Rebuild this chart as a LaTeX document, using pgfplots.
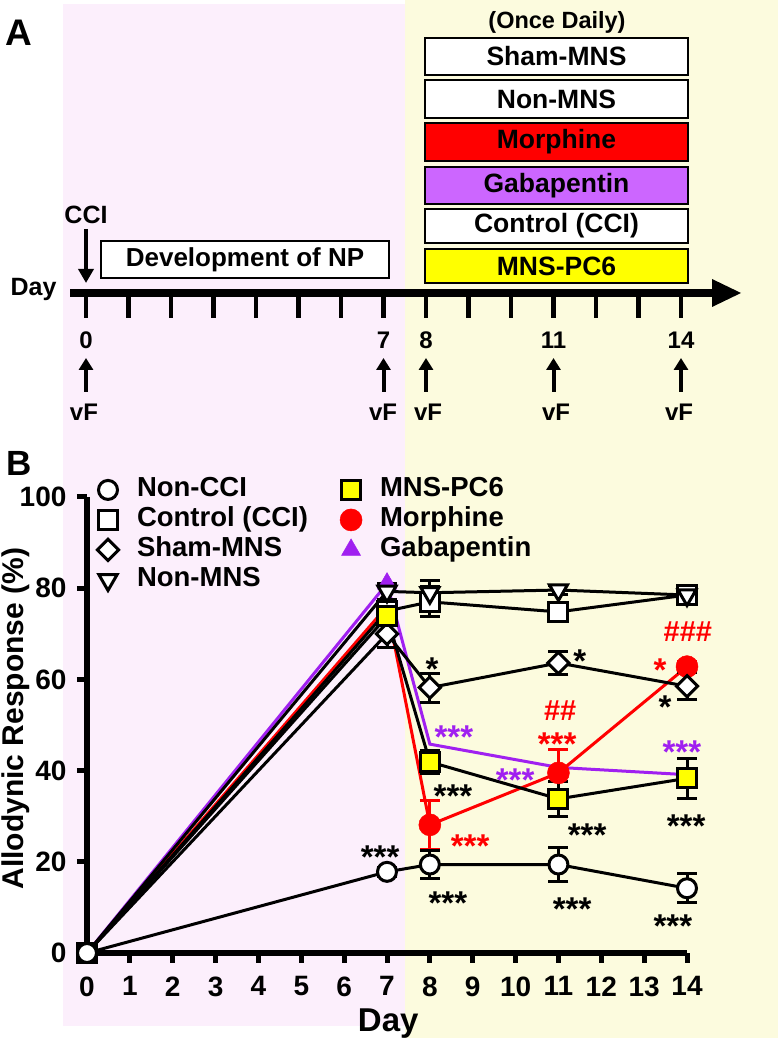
\documentclass[border=0pt]{standalone}
\usepackage{fontspec}
\setmainfont{Liberation Sans}
\usepackage{pgfplots}
\pgfplotsset{compat=1.18}
\usetikzlibrary{arrows.meta}
\definecolor{bgpink}{RGB}{252,239,252}
\definecolor{bgyellow}{RGB}{252,251,222}
\definecolor{mred}{RGB}{255,0,0}
\definecolor{gpurple}{RGB}{160,32,240}
\definecolor{gbox}{RGB}{204,102,255}
\definecolor{ybox}{RGB}{255,255,0}
\newcommand\fs[1]{\fontsize{#1}{#1}\selectfont\bfseries}
\tikzset{
  noncci/.style={black,line width=3pt,mark=*,mark size=9.5pt,mark options={fill=white,draw=black,line width=3pt}},
  ctrl/.style={black,line width=3pt,mark=square*,mark size=9.5pt,mark options={fill=white,draw=black,line width=3pt}},
  sham/.style={black,line width=3pt,mark=square*,mark size=7.5pt,mark options={fill=white,draw=black,line width=3pt,rotate=45}},
  nonmns/.style={black,line width=3pt,mark=triangle*,mark size=10.5pt,mark options={fill=white,draw=black,line width=3pt,rotate=180}},
  pc6/.style={black,line width=3pt,mark=square*,mark size=9.5pt,mark options={fill=ybox,draw=black,line width=3pt}},
  morph/.style={mred,line width=3pt,mark=*,mark size=11pt,mark options={fill=mred,draw=mred,line width=0.5pt}},
  gaba/.style={gpurple,line width=3pt,mark=triangle*,mark size=11pt,mark options={fill=gpurple,draw=gpurple,line width=0.5pt}},
}
\pgfplotsset{
  ebar/.style={error bars/.cd, y dir=both, y explicit,
     error bar style={line width=3pt,#1},
     error mark options={rotate=90,mark size=10pt,line width=3pt,#1}},
}
\newcommand\annS[4]{\node[font=\fs{33},text=#1,anchor=base,yshift=-19pt] at (axis cs:#2,#3) {#4};}
\newcommand\annH[4]{\node[font=\fs{29},text=#1,anchor=base,yshift=-10pt] at (axis cs:#2,#3) {#4};}
\begin{document}
\begin{tikzpicture}[x=1pt,y=1pt]
\useasboundingbox (0,0) rectangle (778,1038);
\fill[bgpink] (63,12) rectangle (405,1034);
\fill[bgyellow] (405,0) rectangle (778,1038);
% ---------------- Panel A ----------------
\node[font=\fs{37}] at (19,1005) {A};
\node[font=\fs{23.5}] at (557,1016) {(Once Daily)};
\draw[line width=2pt,fill=white] (425,963) rectangle (688,1000);
\node[font=\fs{26.5}] at (556.5,981.5) {Sham-MNS};
\draw[line width=2pt,fill=white] (425,920) rectangle (688,958);
\node[font=\fs{26.5}] at (556.5,939) {Non-MNS};
\draw[line width=2pt,fill=mred] (425,877) rectangle (688,915);
\node[font=\fs{26.5}] at (556.5,896) {Morphine};
\draw[line width=2pt,fill=gbox] (425,834) rectangle (688,871);
\node[font=\fs{26.5}] at (556.5,852.5) {Gabapentin};
\draw[line width=2pt,fill=white] (425,795) rectangle (688,829);
\node[font=\fs{26.5}] at (556.5,812) {Control (CCI)};
\draw[line width=2pt,fill=ybox] (425,755) rectangle (688,789);
\node[font=\fs{26.5}] at (556.5,772) {MNS-PC6};
\draw[line width=2pt,fill=white] (101,760) rectangle (389,797);
\node[font=\fs{26}] at (245,778.5) {Development of NP};
\node[font=\fs{25}] at (86,823) {CCI};
\draw[line width=4pt,-{Triangle[width=15pt,length=14pt]}] (86,809) -- (86,755);
\draw[line width=8pt] (70,745) -- (714,745);
\fill (712,759) -- (741,745) -- (712,731) -- cycle;
\node[font=\fs{25},anchor=east] at (60,748) {Day};
\foreach \d in {0,...,14} \draw[line width=4.5pt] (86+42.5*\d,745) -- (86+42.5*\d,720);
\foreach \d/\l in {0/0,7/7,8/8,11/11,14/14}{
  \node[font=\fs{24}] at (86+42.5*\d,698) {\l};
  \draw[line width=4pt,-{Triangle[width=14pt,length=12pt]}] (86+42.5*\d,646) -- (86+42.5*\d,680);
}
\foreach \x in {84,383,428,556,679} \node[font=\fs{24}] at (\x,626) {vF};
% ---------------- Panel B ----------------
\node[font=\fs{35}] at (19,575) {B};
\begin{axis}[
  at={(87pt,85pt)}, anchor=south west,
  scale only axis, width=600pt, height=456pt,
  xmin=0, xmax=14, ymin=0, ymax=100,
  axis x line*=bottom, axis y line*=left,
  x axis line style={line width=6pt,-},
  y axis line style={line width=6pt,-},
  xtick={0,...,14}, ytick={0,20,...,100},
  tick align=outside, major tick length=10pt,
  tick style={line width=5pt,black},
  ticklabel style={font=\fs{28}},
  xticklabel style={yshift=-10pt},
  yticklabel style={xshift=-7pt},
  /pgf/number format/assume math mode=true,
  clip=false,
  xlabel={Day}, ylabel={Allodynic Response (\%)},
  xlabel style={font=\fs{33},at={(axis description cs:0.502,-0.155)},anchor=center},
  ylabel style={font=\fs{30},at={(axis description cs:-0.119,0.514)},anchor=center},
  legend image code/.code={\path[draw=none,fill=none] (-12pt,-11pt) rectangle (12pt,11pt); \draw[#1] plot coordinates {(0pt,0pt)};},
  legend style={draw=none, fill=none, inner sep=0pt, outer sep=0pt,
      at={(axis description cs:0.015,1.044)}, anchor=north west,
      font=\fs{27.5}, row sep=4pt, column sep=0pt,
      nodes={inner sep=0pt, text height=20pt, text depth=6pt},
      /tikz/every odd column/.append style={column sep=17pt},
      /tikz/every even column/.append style={column sep=31pt}},
  legend cell align=left,
  legend columns=4, transpose legend,
]
\addlegendimage{noncci}\addlegendentry{Non-CCI}
\addlegendimage{ctrl}\addlegendentry{Control (CCI)}
\addlegendimage{sham}\addlegendentry{Sham-MNS}
\addlegendimage{nonmns}\addlegendentry{Non-MNS}
\addlegendimage{pc6}\addlegendentry{MNS-PC6}
\addlegendimage{morph}\addlegendentry{Morphine}
\addlegendimage{gaba}\addlegendentry{Gabapentin}
% Gabapentin
\addplot[gaba, mark indices={2}, forget plot] coordinates {(0,0) (7,81) (8,45.8) (11,40.7) (14,39.1)};
% Morphine
\addplot[morph, mark indices={3,4,5}, forget plot, ebar=mred] coordinates {
 (0,0) +- (0,0.5) (7,76) +- (0,0.5) (8,28.1) +- (0,5.3) (11,39.5) +- (0,5.1) (14,62.8) +- (0,1.2)};
% Control (CCI)
\addplot[ctrl, forget plot, ebar=black] coordinates {
 (0,0) +- (0,0.5) (7,75) +- (0,1) (8,77) +- (0,3.3) (11,74.8) +- (0,1) (14,78.5) +- (0,1.5)};
% Sham-MNS
\addplot[sham, mark indices={2,3,4,5}, forget plot, ebar=black] coordinates {
 (0,0) +- (0,0.5) (7,70) +- (0,3) (8,58.2) +- (0,3.2) (11,63.6) +- (0,2.5) (14,58.5) +- (0,3)};
% Non-MNS
\addplot[nonmns, mark indices={2,3,4,5}, forget plot, ebar=black] coordinates {
 (0,0) +- (0,0.5) (7,79.3) +- (0,1.8) (8,79) +- (0,2.6) (11,79.6) +- (0,1) (14,78.5) +- (0,1)};
% MNS-PC6
\addplot[pc6, mark indices={2,3,4,5}, forget plot, ebar=black] coordinates {
 (0,0) +- (0,0.5) (7,73.8) +- (0,1.5) (8,41.9) +- (0,2.5) (11,33.8) +- (0,3.8) (14,38.3) +- (0,4.4)};
% Non-CCI
\addplot[noncci, forget plot, ebar=black] coordinates {
 (0,0) +- (0,0.5) (7,17.8) +- (0,1) (8,19.4) +- (0,3) (11,19.4) +- (0,3.8) (14,14.2) +- (0,3.2)};
% annotations
\annS{black}{6.84}{22.6}{***}
\annS{black}{8.05}{64.0}{*}
\annS{black}{11.5}{65.6}{*}
\annS{black}{13.49}{55.7}{*}
\annS{black}{8.54}{36.0}{***}
\annS{black}{11.67}{27.6}{***}
\annS{black}{13.98}{29.6}{***}
\annS{black}{8.42}{12.7}{***}
\annS{black}{11.32}{11.4}{***}
\annS{black}{13.67}{7.5}{***}
\annS{mred}{8.94}{25.0}{***}
\annS{mred}{10.97}{47.4}{***}
\annH{mred}{11.04}{53.1}{\#\#}
\annS{mred}{13.37}{63.6}{*}
\annH{mred}{14.02}{70.4}{\#\#\#}
\annS{gpurple}{8.56}{49.1}{***}
\annS{gpurple}{9.99}{39.5}{***}
\annS{gpurple}{13.88}{45.8}{***}
\end{axis}
\end{tikzpicture}
\end{document}
